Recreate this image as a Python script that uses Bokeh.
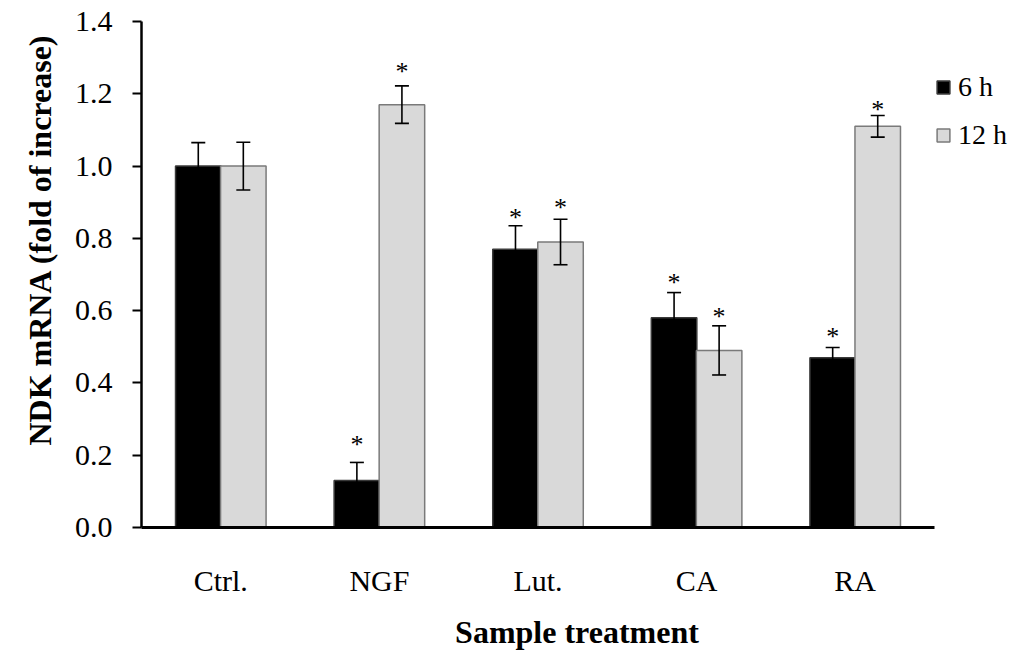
from bokeh.plotting import figure
from bokeh.models import (ColumnDataSource, Range1d, FixedTicker, NumeralTickFormatter,
                          Whisker, TeeHead, Legend, LegendItem, Title)
from bokeh.transform import dodge
from bokeh.core.properties import value
from bokeh.embed import file_html
from bokeh.resources import INLINE

categories = ["Ctrl.", "NGF", "Lut.", "CA", "RA"]
h6 = [1.00, 0.13, 0.77, 0.58, 0.47]
h6_err = [0.065, 0.05, 0.065, 0.07, 0.028]
h12 = [1.00, 1.17, 0.79, 0.49, 1.11]
h12_err = [0.066, 0.052, 0.063, 0.068, 0.03]
star6_cats = ["NGF", "Lut.", "CA", "RA"]
star6_y = [0.246, 0.874, 0.695, 0.546]
star12_cats = ["NGF", "Lut.", "CA", "RA"]
star12_y = [1.278, 0.901, 0.60, 1.173]
y_ticks = [0.0, 0.2, 0.4, 0.6, 0.8, 1.0, 1.2, 1.4]

SERIF = "Liberation Serif"

# category slot positions on a numeric axis (slot i is centered at i + 0.5)
pos = {c: i + 0.5 for i, c in enumerate(categories)}

src = ColumnDataSource(dict(
    x=[pos[c] for c in categories], h6=h6, h12=h12,
    lo6=[v - e for v, e in zip(h6, h6_err)], hi6=[v + e for v, e in zip(h6, h6_err)],
    lo12=[v - e for v, e in zip(h12, h12_err)], hi12=[v + e for v, e in zip(h12, h12_err)],
))
s6 = ColumnDataSource(dict(x=[pos[c] for c in star6_cats], y=star6_y, t=["*"] * len(star6_cats)))
s12 = ColumnDataSource(dict(x=[pos[c] for c in star12_cats], y=star12_y, t=["*"] * len(star12_cats)))

n = len(categories)
p = figure(width=1014, height=652, output_backend="svg", toolbar_location=None,
           x_range=Range1d(0, n * 871 / 793), y_range=Range1d(0, 1.4),
           min_border_left=141, min_border_right=2, min_border_top=21, min_border_bottom=125)
p.outline_line_color = None
p.xgrid.visible = False
p.ygrid.visible = False

OFF = 0.142
W = 0.287
r6 = p.vbar(x=dodge("x", -OFF), top="h6", width=W, source=src,
            fill_color="black", line_color="#3a3a3a", line_width=1.5)
r12 = p.vbar(x=dodge("x", OFF), top="h12", width=W, source=src,
             fill_color="#d9d9d9", line_color="#7a7a7a", line_width=1.5)

for off, lo, hi in [(-OFF, "lo6", "hi6"), (OFF, "lo12", "hi12")]:
    w = Whisker(base=dodge("x", off), lower=lo, upper=hi, source=src,
                level="annotation", line_color="black", line_width=1.6,
                upper_head=TeeHead(size=14, line_width=1.6, line_color="black"),
                lower_head=TeeHead(size=14, line_width=1.6, line_color="black"))
    p.add_layout(w)

for off, s in [(-OFF, s6), (OFF, s12)]:
    p.text(x=dodge("x", off), y="y", text="t", source=s,
           text_font=value(SERIF), text_font_size="26px", text_color="black",
           text_align="center", text_baseline="middle", y_offset=6)

# axes
p.yaxis.ticker = FixedTicker(ticks=y_ticks)
p.yaxis.formatter = NumeralTickFormatter(format="0.0")
p.yaxis.minor_tick_line_color = None
p.yaxis.major_tick_in = 0
p.yaxis.major_tick_out = 9
p.yaxis.major_tick_line_width = 2
p.yaxis.axis_line_width = 2.5
p.yaxis.major_label_standoff = 20
p.yaxis.major_label_text_font = SERIF
p.yaxis.major_label_text_font_size = "30px"
p.yaxis.major_label_text_color = "black"

ytitle = Title(text="NDK  mRNA (fold of increase)", align="left", offset=82, standoff=28,
               text_font=SERIF, text_font_style="bold", text_font_size="32px", text_color="black")
p.add_layout(ytitle, "left")

p.xaxis.ticker = FixedTicker(ticks=[pos[c] for c in categories])
p.xaxis.major_label_overrides = {pos[c]: c for c in categories}
p.xaxis.bounds = (0, n)
p.xaxis.major_tick_line_color = None
p.xaxis.minor_tick_line_color = None
p.xaxis.major_tick_out = 0
p.xaxis.major_tick_in = 0
p.xaxis.axis_line_width = 3
p.xaxis.major_label_standoff = 36
p.xaxis.major_label_text_font = SERIF
p.xaxis.major_label_text_font_size = "30px"
p.xaxis.major_label_text_color = "black"
p.xaxis.axis_label = "Sample treatment"
p.xaxis.axis_label_text_font = SERIF
p.xaxis.axis_label_text_font_style = "bold"
p.xaxis.axis_label_text_font_size = "32px"
p.xaxis.axis_label_text_color = "black"
p.xaxis.axis_label_standoff = 14

legend = Legend(items=[LegendItem(label="6 h", renderers=[r6]),
                       LegendItem(label="12 h", renderers=[r12])],
                location=(794, 376), padding=0, margin=0, spacing=16,
                glyph_width=16, glyph_height=16, label_height=16, label_standoff=7,
                label_text_font=SERIF, label_text_font_size="28px", label_text_color="black",
                border_line_color=None, background_fill_alpha=0)
p.add_layout(legend, "center")

open("out.html", "w").write(file_html(p, INLINE))
